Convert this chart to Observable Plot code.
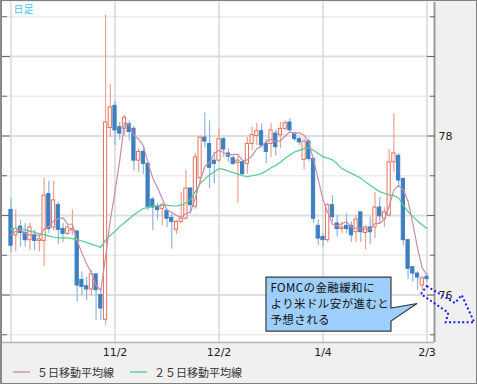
<!DOCTYPE html>
<html><head><meta charset="utf-8">
<script src="https://cdn.jsdelivr.net/npm/d3@7"></script>
<script src="https://cdn.jsdelivr.net/npm/@observablehq/plot@0.6"></script>
<style>
html,body{margin:0;padding:0;background:#f0f0f0;}
#wrap{position:relative;width:477px;height:384px;box-sizing:border-box;border:1px solid #7f7f7f;border-left:2px solid #8a8a8a;background:#f0f0f0;overflow:hidden;}
#wrap svg{display:block;}
#legend{display:flex;align-items:center;height:22px;padding-left:11px;font:11px "Noto Sans CJK JP",sans-serif;color:#333;}
#legend .sw{width:17px;height:2px;margin-right:7px;}
#legend .item{display:flex;align-items:center;margin-right:16px;}
</style></head><body><div id="wrap"></div><script>
const open  = [77.07,76.75,76.86,76.78,76.69,76.75,76.68,76.68,77.27,76.85,77.13,76.83,76.77,76.81,76.80,76.19,76.11,76.07,76.26,76.00,75.69,78.10,78.38,78.11,78.09,78.15,78.09,77.69,77.80,77.65,77.20,77.11,77.08,77.06,76.97,76.82,76.92,76.96,77.34,77.11,77.47,77.98,77.90,77.69,77.69,77.96,77.78,77.72,77.66,77.67,77.65,77.90,78.00,78.06,77.90,77.90,78.03,78.01,78.09,78.17,78.03,77.96,77.70,77.93,77.71,76.87,76.73,76.69,77.13,76.90,76.83,76.87,76.87,76.79,77.04,76.78,76.85,76.85,77.10,76.96,77.00,77.67,77.75,77.46,76.69,76.35,76.27,76.12,76.23];
const high  = [77.21,77.07,76.94,76.90,76.90,76.81,76.77,77.47,77.43,77.43,77.17,76.90,76.87,77.07,76.80,76.29,76.22,76.31,76.26,76.08,79.52,78.65,78.43,78.17,78.26,78.19,78.12,77.84,77.86,77.67,77.23,77.15,77.15,77.08,77.02,76.94,77.29,77.57,77.34,77.78,78.00,78.29,78.19,77.80,78.09,77.98,77.84,77.75,77.75,77.69,77.98,78.11,78.16,78.15,77.96,78.16,78.07,78.17,78.19,78.22,78.05,77.98,77.97,77.96,77.73,76.94,76.77,77.15,77.25,77.00,76.92,77.02,76.92,77.00,77.04,76.87,76.98,77.29,77.23,77.10,77.83,78.28,77.78,77.47,76.69,76.35,76.29,76.24,76.27];
const low   = [76.53,76.54,76.60,76.60,76.56,76.56,76.54,76.36,76.77,76.81,76.64,76.66,76.75,76.75,75.91,75.99,75.93,75.99,75.68,75.68,75.62,77.98,77.88,77.95,78.00,77.94,77.56,77.54,77.52,77.06,76.81,76.94,76.87,76.85,76.58,76.76,76.90,76.95,77.02,77.08,77.42,77.85,77.34,77.40,77.67,77.73,77.67,77.63,77.15,77.50,77.52,77.82,77.88,77.86,77.65,77.73,77.75,77.84,78.07,78.03,77.93,77.88,77.57,77.68,76.90,76.62,76.60,76.66,76.92,76.73,76.77,76.77,76.66,76.66,76.66,76.57,76.64,76.71,76.90,76.85,76.98,77.54,77.36,76.62,76.20,76.16,76.06,76.05,76.16];
const close = [76.62,76.83,76.78,76.69,76.85,76.68,76.70,77.25,76.83,77.19,76.82,76.77,76.85,76.83,76.12,76.10,76.07,76.26,76.06,75.83,78.17,78.36,78.07,78.03,78.23,78.05,77.69,77.80,77.65,77.11,77.10,77.07,77.13,76.96,76.92,76.92,76.96,77.34,77.13,77.73,77.98,77.93,77.60,77.65,77.96,77.83,77.74,77.65,77.69,77.52,77.90,78.01,78.06,77.88,77.80,78.07,77.86,78.09,78.16,78.07,77.96,77.92,77.93,77.71,76.96,76.71,76.69,77.13,76.98,76.83,76.85,76.83,76.75,76.95,76.79,76.85,76.79,77.10,76.99,77.04,77.67,77.78,77.44,76.69,76.33,76.27,76.22,76.21,76.20];
const ma5   = [76.76,76.80,76.82,76.78,76.75,76.77,76.74,76.83,76.86,76.93,76.96,76.97,76.89,76.89,76.68,76.53,76.39,76.28,76.12,76.06,76.48,76.94,77.30,77.69,78.17,78.15,78.01,77.96,77.88,77.66,77.47,77.35,77.21,77.07,77.04,77.00,76.98,77.02,77.05,77.22,77.43,77.62,77.67,77.78,77.82,77.79,77.76,77.77,77.77,77.69,77.70,77.75,77.84,77.87,77.93,77.96,77.93,77.94,78.00,78.05,78.03,78.04,78.01,77.92,77.70,77.45,77.20,77.04,76.89,76.87,76.90,76.92,76.85,76.84,76.83,76.83,76.83,76.90,76.90,76.95,77.12,77.32,77.38,77.32,77.18,76.90,76.59,76.34,76.25];
const ma25  = [76.83,76.84,76.84,76.82,76.80,76.79,76.77,76.76,76.74,76.73,76.72,76.72,76.72,76.71,76.70,76.68,76.66,76.64,76.62,76.60,76.69,76.75,76.80,76.86,76.91,76.96,77.01,77.05,77.09,77.10,77.12,77.12,77.13,77.13,77.12,77.12,77.13,77.16,77.20,77.30,77.40,77.46,77.51,77.55,77.59,77.58,77.56,77.54,77.52,77.50,77.49,77.50,77.51,77.53,77.56,77.60,77.63,77.67,77.72,77.76,77.80,77.82,77.84,77.85,77.82,77.78,77.74,77.72,77.70,77.65,77.59,77.56,77.53,77.50,77.47,77.42,77.38,77.34,77.30,77.28,77.26,77.25,77.22,77.13,77.05,76.99,76.93,76.88,76.84];
const xTickIndex = [0, 22, 44, 66, 88];
const xTickLabel = ["", "11/2", "12/2", "1/4", "2/3"];
const yIntTicks = [76, 77, 78, 79];
const yHalfTicks = [75.5, 76.5, 77.5, 78.5, 79.5];
const yLabelTicks = [76, 78];
const seriesNames = ["５日移動平均線", "２５日移動平均線"];
const periodLabel = "日足";
const calloutLines = ["FOMCの金融緩和に", "より米ドル安が進むと", "予想される"];

const C = {
  upBody: "#e2735c", upWick: "#eda08f",
  downBody: "#3d7fc1", downWick: "#8ab6df",
  ma5: "#cc8aa9", ma25: "#55c98d",
  ma5Legend: "#e4a6bf", ma25Legend: "#86d8ad"
};

const candles = close.map((c, i) => ({i, o: open[i], h: high[i], l: low[i], c}));
const ups = candles.filter(d => d.c >= d.o);
const downs = candles.filter(d => d.c < d.o);
const bw = 0.34;
const noText = () => "";

const chart = Plot.plot({
  width: 474, height: 360,
  marginLeft: 0, marginRight: 42, marginTop: 1, marginBottom: 19,
  style: {background: "transparent", fontFamily: "DejaVu Sans, sans-serif", overflow: "visible"},
  x: {type: "linear", domain: [-1.8, 89.59], label: null},
  y: {domain: [75.403, 79.679], label: null},
  marks: [
    Plot.frame({fill: "white", stroke: null}),
    Plot.gridY(yHalfTicks, {stroke: "#ececec", strokeOpacity: 1, strokeWidth: 1.5}),
    Plot.gridY(yIntTicks, {stroke: "#dedede", strokeOpacity: 1, strokeWidth: 2}),
    Plot.gridX(xTickIndex, {stroke: "#d9d9d9", strokeOpacity: 1, strokeWidth: 1.5}),
    Plot.ruleX(downs, {x: "i", y1: "l", y2: "h", stroke: C.downWick, strokeWidth: 1.2}),
    Plot.ruleX(ups, {x: "i", y1: "l", y2: "h", stroke: C.upWick, strokeWidth: 1.2}),
    Plot.rect(downs, {x1: d => d.i - bw, x2: d => d.i + bw, y1: "o", y2: "c", fill: C.downBody, stroke: C.downBody, strokeWidth: 1}),
    Plot.rect(ups, {x1: d => d.i - bw, x2: d => d.i + bw, y1: "o", y2: "c", fill: "white", stroke: C.upBody, strokeWidth: 1}),
    Plot.line(ma25, {x: (d, i) => i, y: d => d, stroke: C.ma25, strokeWidth: 1.2}),
    Plot.line(ma5, {x: (d, i) => i, y: d => d, stroke: C.ma5, strokeWidth: 1.2}),
    Plot.ruleY([75.403], {stroke: "#b4b4b4", strokeWidth: 1.5}),
    Plot.ruleX([89.59], {stroke: "#9a9a9a", strokeWidth: 2}),
    Plot.axisY(yIntTicks, {anchor: "left", tickSize: 8, dx: 8, tickFormat: noText, stroke: "#6a6a6a", label: null}),
    Plot.axisY(yHalfTicks, {anchor: "left", tickSize: 5, dx: 5, tickFormat: noText, stroke: "#6a6a6a", label: null}),
    Plot.axisY(yIntTicks, {anchor: "right", tickSize: 8, dx: -8, tickFormat: noText, stroke: "#6a6a6a", label: null}),
    Plot.axisY(yHalfTicks, {anchor: "right", tickSize: 5, dx: -5, tickFormat: noText, stroke: "#6a6a6a", label: null}),
    Plot.axisY(yLabelTicks, {anchor: "right", tickSize: 0, tickPadding: 4, fontSize: 11, fill: "#222", label: null,
      tickFormat: d => String(d)}),
    Plot.axisX(xTickIndex, {anchor: "bottom", tickSize: 0, tickPadding: 6, fontSize: 11, fill: "#222", label: null,
      tickFormat: d => xTickLabel[xTickIndex.indexOf(d)]}),
    Plot.text([periodLabel], {text: d => d, frameAnchor: "top-left", dx: 11, dy: 3, lineAnchor: "top", textAnchor: "start",
      fill: "#3cc6f2", fontSize: 10, fontFamily: "Noto Sans CJK JP"})
  ]
});

document.getElementById("wrap").appendChild(chart);

// annotation anchored to the last candle through the chart's scales
const xs = chart.scale("x"), ys = chart.scale("y");
const last = close.length - 1;
const ax = xs.apply(last), ay = ys.apply(close[last]);
const svg = d3.select(chart);
const g = svg.append("g").attr("text-anchor", "start");
const bx0 = ax - 160.5, bx1 = ax - 35.5, by0 = ay - 1.6, by1 = ay + 52.4;
g.append("path")
  .attr("d", `M${bx0},${by0}H${bx1}V${ay + 29.4}L${ax - 9.5},${ay + 24.9}L${bx1},${ay + 42.4}V${by1}H${bx0}Z`)
  .attr("fill", "#9ecfff").attr("stroke", "#3a3a3a").attr("stroke-width", 1.2);
calloutLines.forEach((t, k) => {
  g.append("text").attr("x", bx0 + 4.5).attr("y", ay + 8.1 + k * 16.3)
    .attr("text-anchor", "start")
    .attr("dominant-baseline", "central")
    .style("font-family", "'Noto Sans CJK JP'").style("font-size", "11.5px")
    .style("letter-spacing", "0.4px").attr("fill", "#111").text(t);
});
const arrow = [[0.2,7.4],[28.5,24.4],[35.2,16.4],[47.8,43.7],[19.2,43.7],[21.8,34.1],[-5.5,15.4]];
g.append("path")
  .attr("d", "M" + arrow.map(([dx, dy]) => `${ax + dx},${ay + dy}`).join("L") + "Z")
  .attr("fill", "none").attr("stroke", "#1a1aff").attr("stroke-width", 2)
  .attr("stroke-dasharray", "2 2.4");

// legend
const legend = document.createElement("div");
legend.id = "legend";
[[seriesNames[0], C.ma5Legend], [seriesNames[1], C.ma25Legend]].forEach(([name, col]) => {
  const it = document.createElement("div"); it.className = "item";
  const sw = document.createElement("div"); sw.className = "sw"; sw.style.background = col;
  const tx = document.createElement("span"); tx.textContent = name;
  it.appendChild(sw); it.appendChild(tx); legend.appendChild(it);
});
document.getElementById("wrap").appendChild(legend);
</script></body></html>
